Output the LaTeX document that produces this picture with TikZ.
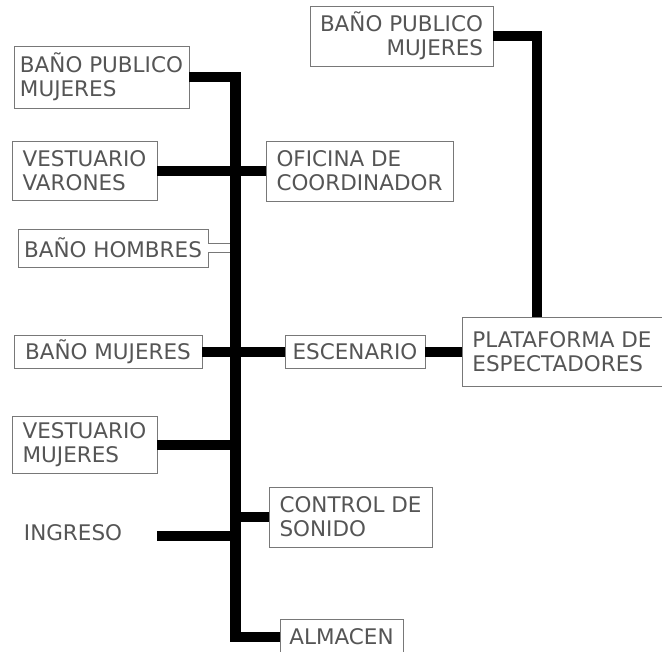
\documentclass[tikz,border=0pt]{standalone}
\usepackage{fontspec}
\setmainfont{DejaVu Sans}
\definecolor{boxgray}{RGB}{120,120,120}
\definecolor{txtgray}{RGB}{85,85,85}
\usetikzlibrary{positioning}

\begin{document}
\begin{tikzpicture}[x=1pt,y=-1pt,
  room/.style={draw=boxgray,line width=0.9pt,fill=white,text=txtgray,
    font=\fontsize{21.5}{24}\selectfont,align=left,inner sep=0pt},
  wire/.style={line width=10.5pt,black,line join=miter},
  pipe/.style={draw=boxgray,line width=0.8pt,double=white,double distance=8.5pt}
]
  \useasboundingbox (0,0) rectangle (662,652);

  % Rooms
  \node[room,minimum width=175pt,minimum height=62pt] (bpmA) at (101.5,77) {BAÑO PUBLICO\\MUJERES};
  \node[room,minimum width=145pt,minimum height=59pt] (vvar) at (84.5,171) {VESTUARIO\\VARONES};
  \node[room,minimum width=187pt,minimum height=60pt] (ofic) at (359.5,171) {OFICINA DE\\COORDINADOR};
  \node[room,minimum width=190pt,minimum height=38pt] (bhom) at (113,248) {BAÑO HOMBRES};
  \node[room,minimum width=188pt,minimum height=33pt] (bmuj) at (108,352) {BAÑO MUJERES};
  \node[room,minimum width=140pt,minimum height=33pt] (esce) at (355,352) {ESCENARIO};
  \node[room,minimum width=200pt,minimum height=69pt] (plat) at (562,352) {PLATAFORMA DE\\ESPECTADORES};
  \node[room,minimum width=183pt,minimum height=60pt,align=right] (bpmB) at (401.5,36) {BAÑO PUBLICO\\MUJERES};
  \node[room,minimum width=145pt,minimum height=57pt] (vmuj) at (84.5,445) {VESTUARIO\\MUJERES};
  \node[room,minimum width=163pt,minimum height=60pt] (ctrl) at (350.5,517) {CONTROL DE\\SONIDO};
  \node[room,minimum width=123pt,minimum height=36pt] (alma) at (341.5,637) {ALMACEN};
  \node[text=txtgray,font=\fontsize{21.5}{24}\selectfont] (ingr) at (73,533) {INGRESO};

  % Main corridor
  \coordinate (bot) at (235.5,637);
  \coordinate (ing) at (157,536);
  \coordinate (turn) at (537,36);
  \draw[wire] (bpmA.east) -| (bot) -- (alma.west);

  % Branches
  \draw[wire] (vvar.east) -- (ofic.west);
  \draw[pipe] (bhom.east) -- (bhom.east -| 230,0);
  \draw[wire] (bmuj.east) -- (esce.west);
  \draw[wire] (esce.east) -- (plat.west);
  \draw[wire] (vmuj.east) -- (vmuj.east -| bot);
  \draw[wire] (ctrl.west) -- (ctrl.west -| bot);
  \draw[wire] (ing) -- (ing -| bot);
  \draw[wire] (bpmB.east) -- (turn) -- (turn |- plat.north);
\end{tikzpicture}
\end{document}
